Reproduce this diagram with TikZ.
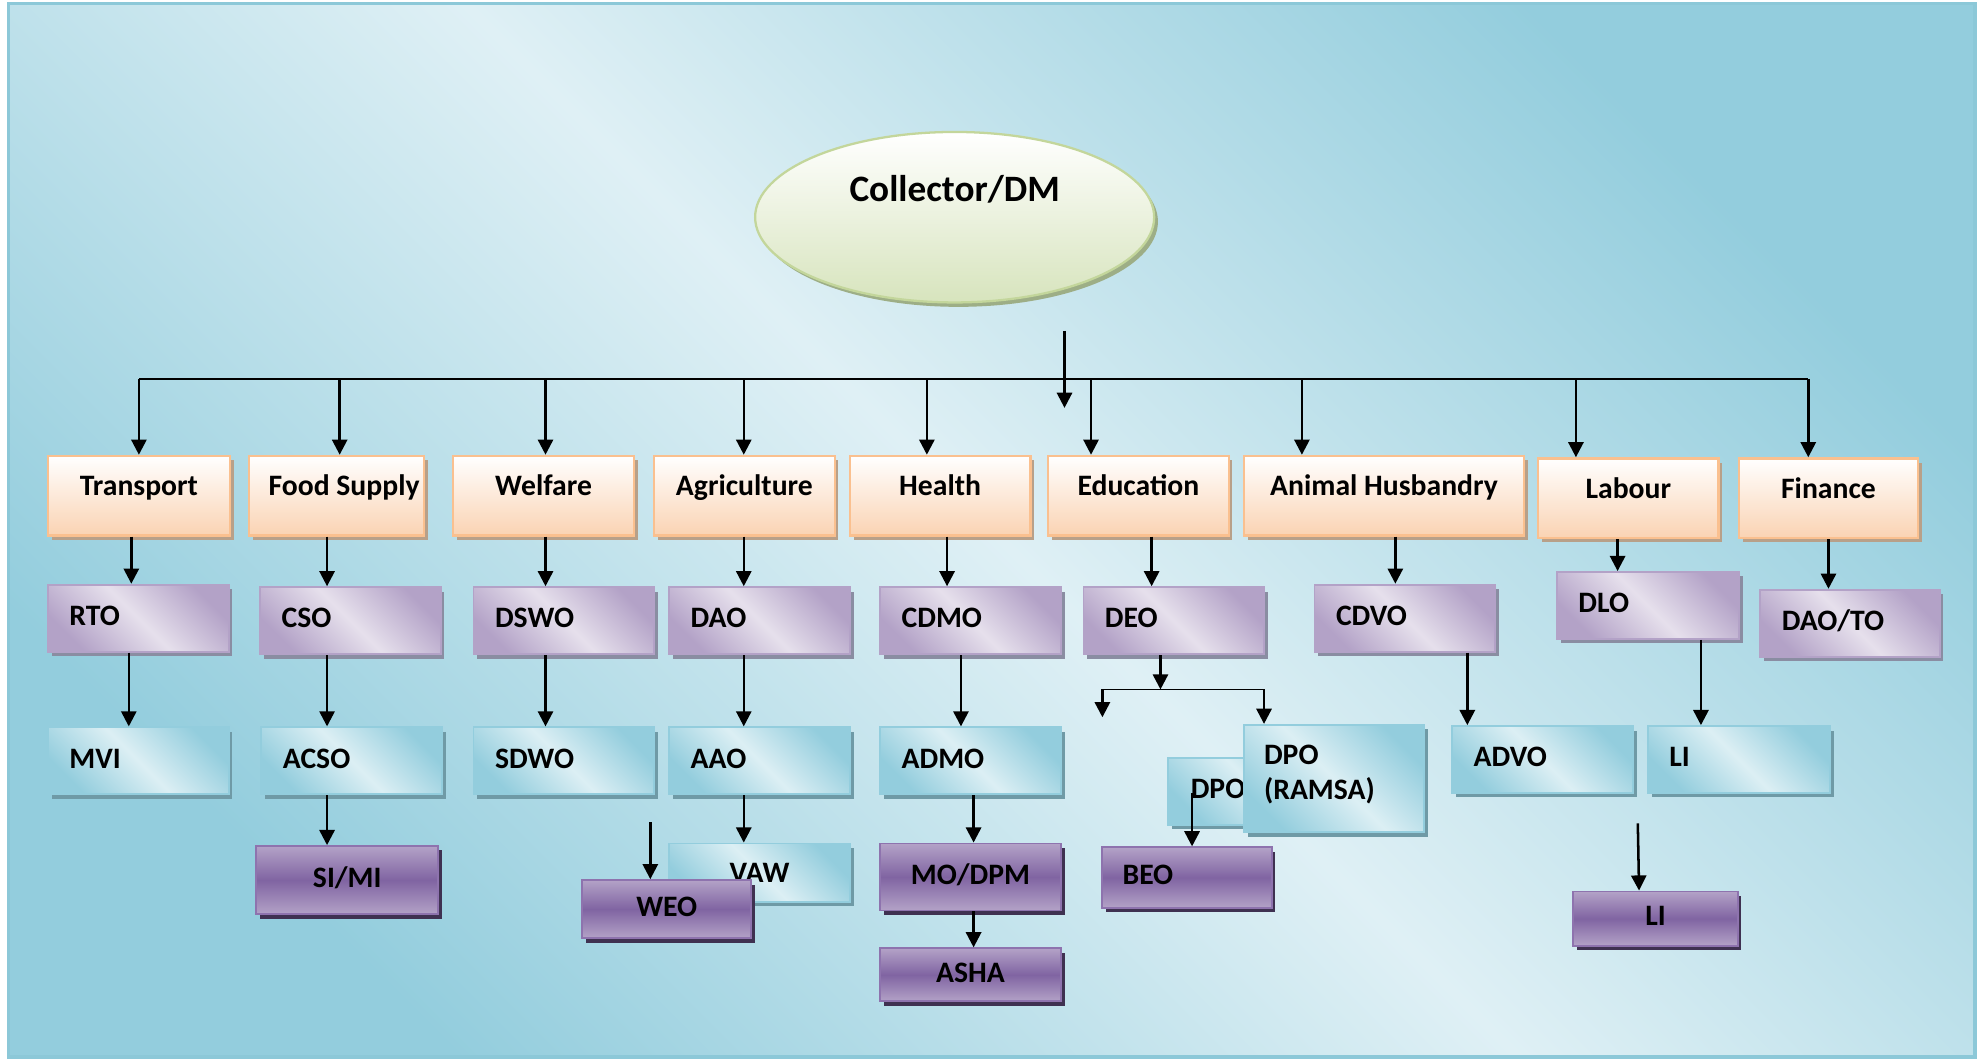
\documentclass[tikz,border=0pt]{standalone}
\usepackage{fontspec}
\setmainfont{Carlito}
\usetikzlibrary{arrows.meta,shadows,shapes.geometric}
\definecolor{bgLight}{HTML}{DFF0F5}
\definecolor{bgDark}{HTML}{93CDDD}
\definecolor{bgBorder}{HTML}{8CC8D8}
\definecolor{peach}{HTML}{FAD3B3}
\definecolor{peachBorder}{HTML}{FAC08F}
\definecolor{peachShadow}{HTML}{B8A089}
\definecolor{lavLight}{HTML}{E6E0EC}
\definecolor{lavDark}{HTML}{B3A2C7}
\definecolor{lavShadow}{HTML}{8A8DA2}
\definecolor{cyLight}{HTML}{DCEFF4}
\definecolor{cyDark}{HTML}{93CDDD}
\definecolor{cyShadow}{HTML}{6F9AA6}
\definecolor{purMid}{HTML}{8064A2}
\definecolor{purLight}{HTML}{B3A2C7}
\definecolor{purBorder}{HTML}{8E73AE}
\definecolor{purShadow}{HTML}{3F3151}
\definecolor{grnLight}{HTML}{D7E4BD}
\definecolor{grnBorder}{HTML}{C3D69B}
\definecolor{grnShadow}{HTML}{9DAE86}
\begin{document}
\begin{tikzpicture}[x=1pt,y=-1pt,
  lbl/.style={font=\fontsize{23.5}{28}\selectfont\bfseries, text=black},
  arr/.style={line width=2pt,-{Triangle[length=12pt,width=12pt]}},
  busline/.style={line width=1.4pt},
  dept/.style={lbl, rectangle, draw=peachBorder, line width=1.8pt,
    top color=white, bottom color=peach,
    minimum height=63pt, inner sep=0pt, text height=15pt, text depth=15pt, align=center,
    drop shadow={shadow xshift=3pt,shadow yshift=-3.5pt,fill=peachShadow,opacity=1}},
  sub1/.style={lbl, rectangle, draw=lavDark, line width=1.5pt,
    top color=lavDark, bottom color=lavDark, middle color=lavLight, shading angle=-45,
    minimum height=53pt, inner xsep=17pt, inner ysep=0pt, text width=109pt, align=left,
    text height=15pt, text depth=3.5pt,
    drop shadow={shadow xshift=3pt,shadow yshift=-3.5pt,fill=lavShadow,opacity=1}},
  sub2/.style={lbl, rectangle, draw=cyDark, line width=1.5pt,
    top color=cyDark, bottom color=cyDark, middle color=cyLight, shading angle=-45,
    minimum height=53pt, inner xsep=17pt, inner ysep=0pt, text width=109pt, align=left,
    text height=15pt, text depth=3.5pt,
    drop shadow={shadow xshift=3pt,shadow yshift=-3.5pt,fill=cyShadow,opacity=1}},
  sub3/.style={lbl, rectangle, draw=purBorder, line width=1.5pt,
    top color=purLight, bottom color=purLight, middle color=purMid,
    inner sep=0pt, align=center, text height=15pt, text depth=3.5pt,
    drop shadow={shadow xshift=3pt,shadow yshift=-3.5pt,fill=purShadow,opacity=1}}
]
\useasboundingbox (0,0) rectangle (1568,838);
\fill[white] (0,0) rectangle (1568,838);
% background panel
\path[top color=bgDark, bottom color=bgDark, middle color=bgLight, shading angle=-45]
  (7,3) rectangle (1564,837);
\draw[bgBorder, line width=2.5pt] (7,3) rectangle (1564,837);

% top node
\node[ellipse, draw=grnBorder, line width=1.8pt, top color=white, bottom color=grnLight,
  minimum width=316pt, minimum height=135pt, inner sep=0pt,
  text height=20pt, text depth=45pt, font=\fontsize{29.5}{34}\selectfont\bfseries,
  drop shadow={shadow xshift=3pt,shadow yshift=-3.5pt,fill=grnShadow,opacity=1}]
  (collector) at (756,172) {Collector/DM};

% departments
\node[dept, minimum width=144pt] (transport) at (110,392.5) {Transport};
\node[dept, minimum width=139pt] (food) at (266.5,392.5) {\hspace*{12pt}Food Supply};
\node[dept, minimum width=143pt] (welfare) at (430.5,392.5) {Welfare};
\node[dept, minimum width=143pt] (agri) at (589.5,392.5) {Agriculture};
\node[dept, minimum width=143pt] (health) at (744.5,392.5) {Health};
\node[dept, minimum width=143pt] (edu) at (901.5,392.5) {Education};
\node[dept, minimum width=222pt] (animal) at (1096,392.5) {Animal Husbandry};
\node[dept, minimum width=143pt] (labour) at (1289.5,394.5) {Labour};
\node[dept, minimum width=142pt] (finance) at (1448,394.5) {Finance};

% level 1
\node[sub1] (rto) at (109.5,489.5) {RTO};
\node[sub1] (cso) at (277.5,491.5) {CSO};
\node[sub1] (dswo) at (446.5,491.5) {DSWO};
\node[sub1] (dao) at (601.5,491.5) {DAO};
\node[sub1] (cdmo) at (768.5,491.5) {CDMO};
\node[sub1] (deo) at (929.5,491.5) {DEO};
\node[sub1] (cdvo) at (1112.5,489.5) {CDVO};
\node[sub1, text width=110pt] (dlo) at (1305,479.5) {DLO};
\node[sub1, text width=108pt] (daoto) at (1465,493.5) {DAO/TO};

% level 2
\node[sub2] (mvi) at (109.5,602.5) {MVI};
\node[sub2] (acso) at (278.5,602.5) {ACSO};
\node[sub2] (sdwo) at (446.5,602.5) {SDWO};
\node[sub2] (aao) at (601.5,602.5) {AAO};
\node[sub2] (admo) at (768.5,602.5) {ADMO};
\node[sub2, inner xsep=18pt, text width=107pt] (dpo) at (996.5,626.5) {DPO};
\node[sub2, minimum height=85pt, inner xsep=16pt, text width=111pt, text depth=37pt]
  (dporamsa) at (1056.5,616.5) {DPO\\(RAMSA)};
\node[sub2] (advo) at (1221.5,601.5) {ADVO};
\node[sub2, text width=110pt] (li1) at (1377,601.5) {LI};
\node[sub2, minimum height=46pt, inner xsep=0pt, text width=143pt, align=center, text height=18pt, text depth=2pt]
  (vaw) at (601.5,691) {VAW};

% level 3
\node[sub3, minimum width=144pt, minimum height=54pt] (simi) at (275,697) {SI/MI};
\node[sub3, minimum width=134pt, minimum height=46pt] (weo) at (528,720) {WEO};
\node[sub3, minimum width=143pt, minimum height=53pt] (modpm) at (768.5,694.5) {MO/DPM};
\node[sub3, minimum width=143pt, minimum height=42pt] (asha) at (768.5,772) {ASHA};
\node[sub3, minimum height=48pt, inner xsep=16pt, text width=102pt, align=left] (beo) at (940,695) {BEO};
\node[sub3, minimum width=130pt, minimum height=43pt] (li2) at (1311,727.5) {LI};

% bus
\coordinate (t1) at (110,300);
\coordinate (t2) at (269,300);
\coordinate (t3) at (432,300);
\coordinate (t4) at (589,300);
\coordinate (t5) at (734,300);
\coordinate (t6) at (864,300);
\coordinate (t7) at (1031,300);
\coordinate (t8) at (1248,300);
\coordinate (t9) at (1432,300);
\draw[busline] (t1) -- (t9);
\draw[arr] (t1) -- (t1 |- transport.north);
\draw[arr] (t2) -- (t2 |- food.north);
\draw[arr] (t3) -- (t3 |- welfare.north);
\draw[arr] (t4) -- (t4 |- agri.north);
\draw[arr] (t5) -- (t5 |- health.north);
\draw[arr] (t6) -- (t6 |- edu.north);
\draw[arr] (t7) -- (t7 |- animal.north);
\draw[arr] (t8) -- (t8 |- labour.north);
\draw[arr] (t9) -- (t9 |- finance.north);
\coordinate (c1) at (843,262);
\coordinate (c2) at (843,323);
\draw[arr] (c1) -- (c2);

% departments to level 1
\draw[arr] (transport.south -| 104,0) -- (rto.north -| 104,0);
\draw[arr] (food.south -| 259,0) -- (cso.north -| 259,0);
\draw[arr] (welfare.south -| 432,0) -- (dswo.north -| 432,0);
\draw[arr] (agri.south -| 589,0) -- (dao.north -| 589,0);
\draw[arr] (health.south -| 750,0) -- (cdmo.north -| 750,0);
\draw[arr] (edu.south -| 912,0) -- (deo.north -| 912,0);
\draw[arr] (animal.south -| 1105,0) -- (cdvo.north -| 1105,0);
\draw[arr] (labour.south -| 1281,0) -- (dlo.north -| 1281,0);
\draw[arr] (finance.south -| 1448,0) -- (daoto.north -| 1448,0);

% level 1 to level 2
\draw[arr] (rto.south -| 102,0) -- (mvi.north -| 102,0);
\draw[arr] (cso.south -| 259,0) -- (acso.north -| 259,0);
\draw[arr] (dswo.south -| 432,0) -- (sdwo.north -| 432,0);
\draw[arr] (dao.south -| 589,0) -- (aao.north -| 589,0);
\draw[arr] (cdmo.south -| 761,0) -- (admo.north -| 761,0);
\coordinate (dj) at (919,546);
\coordinate (djl) at (873,546);
\coordinate (djr) at (1001,546);
\coordinate (djle) at (873,568);
\draw[arr] (deo.south -| dj) -- (dj);
\draw[busline] (djl) -- (djr);
\draw[arr] (djl) -- (djle);
\draw[arr] (djr) -- (djr |- dporamsa.north);
\draw[arr] (cdvo.south -| 1162,0) -- (advo.north -| 1162,0);
\draw[arr] (dlo.south -| 1347,0) -- (li1.north -| 1347,0);

% level 2 to level 3
\draw[arr] (acso.south -| 259,0) -- (simi.north -| 259,0);
\draw[arr] (aao.south -| 589,0) -- (vaw.north -| 589,0);
\coordinate (wst) at (515,651);
\draw[arr] (wst) -- (wst |- weo.north);
\draw[arr] (admo.south -| 771,0) -- (modpm.north -| 771,0);
\draw[arr] (modpm.south -| 771,0) -- (asha.north -| 771,0);
\coordinate (dpoarr) at (944,628);
\draw[arr] (dpoarr) -- (dpoarr |- beo.north);
\coordinate (lst) at (1297,652);
\draw[arr] (lst) -- (li2.north -| 1298,0);
\end{tikzpicture}
\end{document}
